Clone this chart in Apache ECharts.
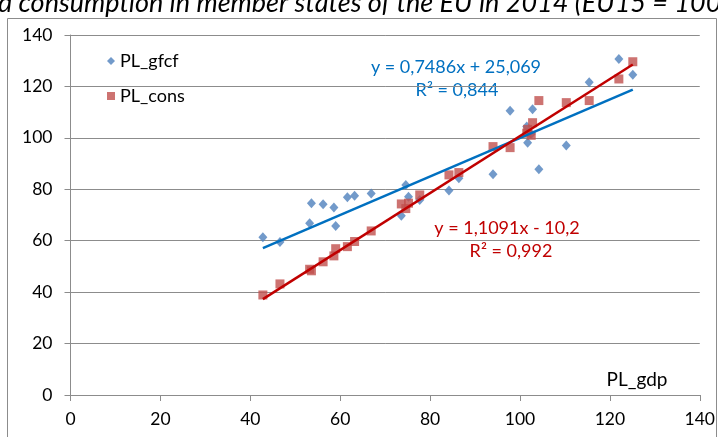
<!DOCTYPE html>
<html>
<head>
<meta charset="utf-8">
<script src="https://cdn.jsdelivr.net/npm/echarts@6/dist/echarts.min.js"></script>
<style>
html,body{margin:0;padding:0;background:#fff;}
#c{width:718px;height:437px;}
</style>
</head>
<body>
<div id="c"></div>
<script>
const titleText = 'Price levels of gross fixed capital formation and consumption in member states of the EU in 2014 (EU15 = 100)';
const titleVisible = 'd consumption in member states of the EU in 2014 (EU15 = 100)';
const xName = 'PL_gdp';
const seriesNames = ['PL_gfcf', 'PL_cons'];
const xTicks = [0, 20, 40, 60, 80, 100, 120, 140];
const yTicks = [0, 20, 40, 60, 80, 100, 120, 140];

const plGdp = [42.8, 46.6, 53.2, 53.6, 56.2, 58.6, 59.0, 61.6, 63.2, 66.9, 73.6, 74.6, 75.2, 77.7, 84.2, 86.4, 94.0, 97.8, 101.5, 101.7, 102.5, 102.8, 104.2, 110.3, 115.4, 122.0, 125.1];
const plGfcf = [61.3, 59.5, 66.8, 74.6, 74.2, 72.9, 65.7, 76.9, 77.5, 78.4, 69.7, 81.7, 77.1, 75.8, 79.5, 84.3, 85.8, 110.5, 104.4, 98.1, 101.5, 111.1, 87.8, 97.0, 121.6, 130.7, 124.5];
const plCons = [38.9, 43.2, 48.9, 48.3, 51.8, 54.1, 56.9, 57.7, 59.7, 63.8, 74.3, 72.5, 74.6, 77.8, 85.6, 86.5, 96.6, 96.2, 101.8, 103.3, 101.0, 105.9, 114.5, 113.7, 114.5, 122.9, 129.6];

const gfcfFit = {slope: 0.7486, intercept: 25.069, r2: 0.844};
const consFit = {slope: 1.1091, intercept: -10.2, r2: 0.992};

const fmt = (v, d) => v.toFixed(d).replace('.', ',');
function eqText(f, sd, id) {
  const sign = f.intercept < 0 ? ' - ' : ' + ';
  return 'y = ' + fmt(f.slope, sd) + 'x' + sign + fmt(Math.abs(f.intercept), id);
}
const xMin = Math.min(...plGdp), xMax = Math.max(...plGdp);
const fitLine = f => [[xMin, f.slope * xMin + f.intercept], [xMax, f.slope * xMax + f.intercept]];

const font = 'Lato, "Open Sans", sans-serif';
const blueMarker = '#4F81BD', redMarker = '#C0504D';
const blueLine = '#0070C0', redLine = '#C00000';

const chart = echarts.init(document.getElementById('c'), null, {renderer: 'canvas'});
chart.setOption({
  animation: false,
  backgroundColor: '#fff',
  grid: {left: 70.5, right: 17.5, top: 35, bottom: 42},
  legend: {
    orient: 'vertical', left: 102, top: 47, itemGap: 17,
    itemWidth: 8, itemHeight: 8,
    textStyle: {fontFamily: font, fontSize: 18, color: '#000'},
    data: [{name: seriesNames[0], icon: 'diamond'}, {name: seriesNames[1], icon: 'rect'}]
  },
  xAxis: {
    type: 'value', min: xTicks[0], max: xTicks[xTicks.length - 1], interval: 20,
    axisLine: {show: true, lineStyle: {color: '#8c8c8c', width: 1}},
    axisTick: {show: true, length: 6, lineStyle: {color: '#8c8c8c'}},
    axisLabel: {fontFamily: font, fontSize: 17.5, color: '#000', margin: 15},
    splitLine: {show: false}
  },
  yAxis: {
    type: 'value', min: yTicks[0], max: yTicks[yTicks.length - 1], interval: 20,
    axisLine: {show: true, lineStyle: {color: '#8c8c8c', width: 1}},
    axisTick: {show: true, length: 6, lineStyle: {color: '#8c8c8c'}},
    axisLabel: {fontFamily: font, fontSize: 17.5, color: '#000', margin: 18},
    splitLine: {show: true, lineStyle: {color: '#8c8c8c', width: 1}}
  },
  series: [
    {
      name: seriesNames[0], type: 'scatter', symbol: 'diamond', symbolSize: [9, 10],
      itemStyle: {color: blueMarker},
      data: plGdp.map((x, i) => [x, plGfcf[i]]), z: 3
    },
    {
      name: seriesNames[1], type: 'scatter', symbol: 'rect', symbolSize: 9,
      itemStyle: {color: redMarker},
      data: plGdp.map((x, i) => [x, plCons[i]]), z: 3
    },
    {
      name: 'gfcf trend', type: 'line', data: fitLine(gfcfFit), symbol: 'none',
      lineStyle: {color: blueLine, width: 2.5}, z: 4, silent: true
    },
    {
      name: 'cons trend', type: 'line', data: fitLine(consFit), symbol: 'none',
      lineStyle: {color: redLine, width: 2.5}, z: 4, silent: true
    }
  ],
  graphic: [
    {type: 'rect', shape: {x: 7.5, y: 18.5, width: 709, height: 430}, style: {fill: 'none', stroke: '#8c8c8c', lineWidth: 1}, z: -1},
    {type: 'text', x: -2, y: 3, style: {text: titleVisible, font: 'italic 27px ' + font, fill: '#000', verticalAlign: 'middle'}},
    {type: 'text', x: 456, y: 67, style: {text: eqText(gfcfFit, 4, 3), font: '18px ' + font, fill: blueLine, align: 'center', verticalAlign: 'middle'}},
    {type: 'text', x: 457, y: 90, style: {text: 'R² = ' + fmt(gfcfFit.r2, 3), font: '18px ' + font, fill: blueLine, align: 'center', verticalAlign: 'middle'}},
    {type: 'text', x: 507, y: 228, style: {text: eqText(consFit, 4, 1), font: '18px ' + font, fill: redLine, align: 'center', verticalAlign: 'middle'}},
    {type: 'text', x: 511, y: 251, style: {text: 'R² = ' + fmt(consFit.r2, 3), font: '18px ' + font, fill: redLine, align: 'center', verticalAlign: 'middle'}},
    {type: 'text', x: 637, y: 380, style: {text: xName, font: '19px ' + font, fill: '#000', align: 'center', verticalAlign: 'middle'}}
  ]
});
</script>
</body>
</html>
